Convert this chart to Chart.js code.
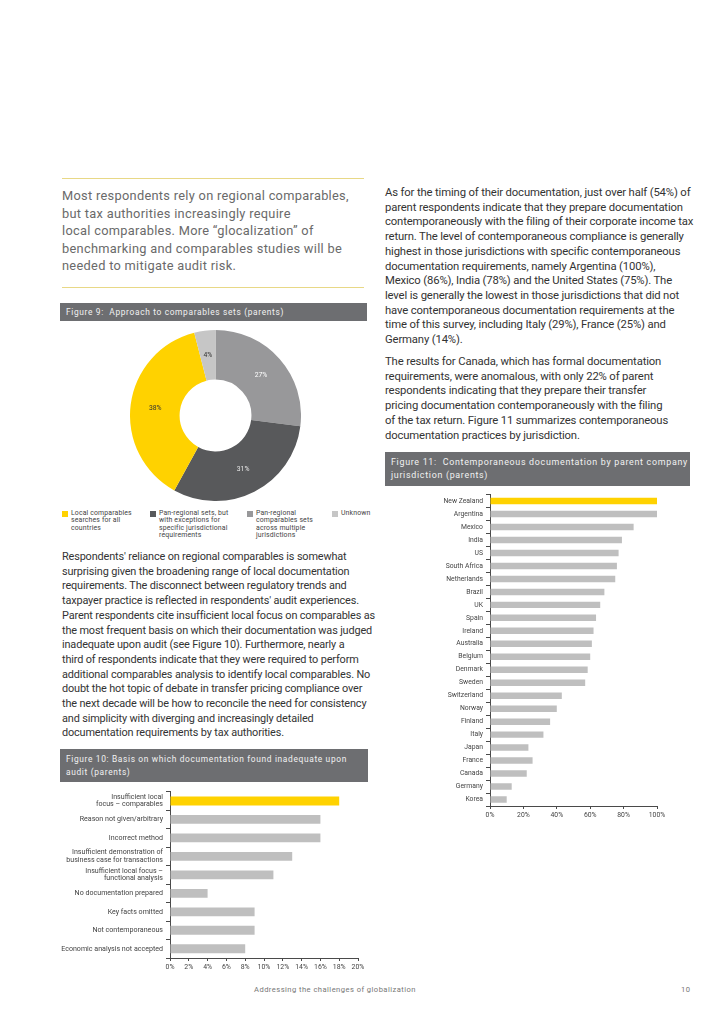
<!DOCTYPE html>
<html>
<head>
<meta charset="utf-8">
<script src="https://cdn.jsdelivr.net/npm/chart.js@4.4.1/dist/chart.umd.min.js"></script>
<style>
  body { margin: 0; background: #fff; font-family: Roboto, "Noto Sans", sans-serif; }
  #page { position: relative; width: 728px; height: 1030px; overflow: hidden; }
  .abs { position: absolute; }
  .rule { position: absolute; left: 62px; width: 302px; height: 1px; background: #e8d886; }
  .quote { left: 62px; top: 187px; font-size: 12.8px; line-height: 17.5px; color: #6a6a6a; white-space: nowrap; letter-spacing: 0.3px; }
  .body { font-size: 10.6px; line-height: 14.7px; color: #333; white-space: nowrap; letter-spacing: -0.15px; }
  .head { position: absolute; background: #6d6e71; color: #f2f2f2; font-size: 8.4px; letter-spacing: 0.65px; box-sizing: border-box; padding-left: 6px; white-space: nowrap; }
  .legend { position: absolute; top: 510px; font-size: 6.9px; line-height: 7.3px; color: #444; white-space: nowrap; letter-spacing: 0.15px; }
  .legend i { position: absolute; left: -9px; top: 1px; width: 6px; height: 6px; }
  .foot { position: absolute; top: 985px; font-size: 7.6px; color: #777; letter-spacing: 0.45px; white-space: nowrap; }
  canvas { position: absolute; }
</style>
</head>
<body>
<div id="page">
  <div class="rule" style="top:178px"></div>
  <div class="abs quote">Most respondents rely on regional comparables,<br>but tax authorities increasingly require<br>local comparables. More “glocalization” of<br>benchmarking and comparables studies will be<br>needed to mitigate audit risk.</div>
  <div class="rule" style="top:287px"></div>

  <div class="head" style="left:60px;top:303px;width:307px;height:18px;line-height:18px">Figure 9:&nbsp; Approach to comparables sets (parents)</div>
  <canvas id="fig9" width="171" height="171" style="left:130px;top:330px"></canvas>
  <div class="legend" style="left:71px"><i style="background:#ffd200"></i>Local comparables<br>searches for all<br>countries</div>
  <div class="legend" style="left:159px"><i style="background:#58595b"></i>Pan-regional sets, but<br>with exceptions for<br>specific jurisdictional<br>requirements</div>
  <div class="legend" style="left:256px"><i style="background:#98989a"></i>Pan-regional<br>comparables sets<br>across multiple<br>jurisdictions</div>
  <div class="legend" style="left:341px"><i style="background:#c6c6c6"></i>Unknown</div>

  <div class="abs body" style="left:62px;top:550px;font-size:10.9px">Respondents' reliance on regional comparables is somewhat<br>surprising given the broadening range of local documentation<br>requirements. The disconnect between regulatory trends and<br>taxpayer practice is reflected in respondents' audit experiences.<br>Parent respondents cite insufficient local focus on comparables as<br>the most frequent basis on which their documentation was judged<br>inadequate upon audit (see Figure 10). Furthermore, nearly a<br>third of respondents indicate that they were required to perform<br>additional comparables analysis to identify local comparables. No<br>doubt the hot topic of debate in transfer pricing compliance over<br>the next decade will be how to reconcile the need for consistency<br>and simplicity with diverging and increasingly detailed<br>documentation requirements by tax authorities.</div>

  <div class="head" style="left:60px;top:749px;width:308px;height:33px;line-height:12.5px;padding-top:4px">Figure 10: Basis on which documentation found inadequate upon<br>audit (parents)</div>
  <canvas id="fig10" width="310" height="189" style="left:60px;top:785px"></canvas>

  <div class="abs body" style="left:385px;top:186px;font-size:11.3px">As for the timing of their documentation, just over half (54%) of<br>parent respondents indicate that they prepare documentation<br>contemporaneously with the filing of their corporate income tax<br>return. The level of contemporaneous compliance is generally<br>highest in those jurisdictions with specific contemporaneous<br>documentation requirements, namely Argentina (100%),<br>Mexico (86%), India (78%) and the United States (75%). The<br>level is generally the lowest in those jurisdictions that did not<br>have contemporaneous documentation requirements at the<br>time of this survey, including Italy (29%), France (25%) and<br>Germany (14%).</div>
  <div class="abs body" style="left:385px;top:355px;font-size:11.3px">The results for Canada, which has formal documentation<br>requirements, were anomalous, with only 22% of parent<br>respondents indicating that they prepare their transfer<br>pricing documentation contemporaneously with the filing<br>of the tax return. Figure 11 summarizes contemporaneous<br>documentation practices by jurisdiction.</div>

  <div class="head" style="left:385px;top:452px;width:305px;height:34px;line-height:13px;padding-top:4px;font-size:8.9px;letter-spacing:0.7px">Figure 11:&nbsp; Contemporaneous documentation by parent company<br>jurisdiction (parents)</div>
  <canvas id="fig11" width="290" height="334" style="left:385px;top:488px"></canvas>

  <div class="foot" style="left:254px">Addressing the challenges of globalization</div>
  <div class="foot" style="left:681px">10</div>
</div>
<script>
// Figure 9 - approach to comparables sets
const approachLabels = ['Pan-regional comparables sets across multiple jurisdictions', 'Pan-regional sets, but with exceptions', 'Local comparables searches for all countries', 'Unknown'];
const approachShares = [27, 31, 38, 4];
const approachColors = ['#98989a', '#58595b', '#ffd200', '#c6c6c6'];
const approachTextColors = ['#ffffff', '#e8e8e8', '#333333', '#333333'];

// Figure 10 - basis on which documentation found inadequate
const auditReasons = [
  ['Insufficient local', 'focus – comparables'],
  'Reason not given/arbitrary',
  'Incorrect method',
  ['Insufficient demonstration of', 'business case for transactions'],
  ['Insufficient local focus –', 'functional analysis'],
  'No documentation prepared',
  'Key facts omitted',
  'Not contemporaneous',
  'Economic analysis not accepted'
];
const auditPct = [18, 16, 16, 13, 11, 4, 9, 9, 8];

// Figure 11 - contemporaneous documentation by jurisdiction
const jurisdictions = ['New Zealand', 'Argentina', 'Mexico', 'India', 'US', 'South Africa', 'Netherlands', 'Brazil', 'UK', 'Spain', 'Ireland', 'Australia', 'Belgium', 'Denmark', 'Sweden', 'Switzerland', 'Norway', 'Finland', 'Italy', 'Japan', 'France', 'Canada', 'Germany', 'Korea'];
const contemporaneousPct = [100, 100, 86, 79, 77, 76, 75, 68.5, 66, 63.5, 62, 61, 60, 58.5, 57, 43, 40, 36, 32, 23, 25.5, 22, 13, 10];

const YELLOW = '#ffd200';
const GREY_BAR = '#bfbfbf';
const AXIS = '#4a4a4a';

Chart.defaults.font.family = 'Roboto, "Noto Sans", sans-serif';
Chart.defaults.color = '#444';
Chart.defaults.animation = false;
Chart.defaults.plugins.legend.display = false;
Chart.defaults.plugins.tooltip.enabled = false;

const sliceLabels = {
  id: 'sliceLabels',
  afterDatasetsDraw(chart) {
    const ctx = chart.ctx;
    ctx.save();
    ctx.font = '6.8px Roboto, sans-serif';
    ctx.textAlign = 'center';
    ctx.textBaseline = 'middle';
    chart.getDatasetMeta(0).data.forEach((arc, i) => {
      const p = arc.tooltipPosition();
      ctx.fillStyle = approachTextColors[i];
      ctx.fillText(approachShares[i] + '%', p.x, p.y);
    });
    ctx.restore();
  }
};

new Chart(document.getElementById('fig9'), {
  type: 'doughnut',
  data: {
    labels: approachLabels,
    datasets: [{ data: approachShares, backgroundColor: approachColors, borderWidth: 0 }]
  },
  options: { responsive: false, cutout: '42%', layout: { padding: 0 } },
  plugins: [sliceLabels]
});

function barOptions(opts) {
  return {
    indexAxis: 'y',
    responsive: false,
    layout: { padding: opts.padding },
    scales: {
      x: {
        min: 0, max: opts.max,
        border: { color: AXIS, width: 1 },
        grid: { drawOnChartArea: false, tickLength: 3, color: AXIS },
        ticks: { stepSize: opts.step, padding: 2, maxRotation: 0, autoSkip: false, font: { size: opts.xFontSize }, callback: v => v + '%' },
        afterFit: s => { s.height = 16; }
      },
      y: {
        border: { color: AXIS, width: 1 },
        grid: { drawOnChartArea: false, tickLength: 4, color: AXIS },
        ticks: { padding: 3, font: { size: opts.fontSize, lineHeight: 1.05 } },
        afterFit: s => { s.width = opts.yWidth; }
      }
    }
  };
}

new Chart(document.getElementById('fig10'), {
  type: 'bar',
  data: {
    labels: auditReasons,
    datasets: [{
      data: auditPct,
      backgroundColor: auditPct.map((v, i) => i == 0 ? YELLOW : GREY_BAR),
      categoryPercentage: 0.96, barPercentage: 0.5
    }]
  },
  options: barOptions({ max: 20, step: 2, fontSize: 7.1, xFontSize: 6.9, yWidth: 110, padding: { top: 5, right: 12, left: 0, bottom: 0 } })
});

new Chart(document.getElementById('fig11'), {
  type: 'bar',
  data: {
    labels: jurisdictions,
    datasets: [{
      data: contemporaneousPct,
      backgroundColor: contemporaneousPct.map((v, i) => i == 0 ? YELLOW : GREY_BAR),
      categoryPercentage: 0.96, barPercentage: 0.52
    }]
  },
  options: barOptions({ max: 100, step: 20, fontSize: 6.8, xFontSize: 6.8, yWidth: 105, padding: { top: 4, right: 18, left: 0, bottom: 0 } })
});
</script>
</body>
</html>
